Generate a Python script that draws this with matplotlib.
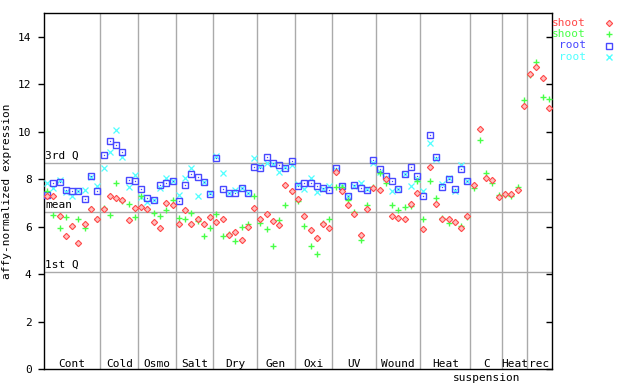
import matplotlib
matplotlib.use('Agg')
import matplotlib.pyplot as plt
import numpy as np

# groups along the x axis and how many samples each has
groups = ['Cont', 'Cold', 'Osmo', 'Salt', 'Dry', 'Gen', 'Oxi', 'UV', 'Wound',
          'Heat', 'C', 'Heat', 'rec']
sub_labels = ['', '', '', '', '', '', '', '', '', '', 'suspension', '', '']
group_sizes = [9, 6, 6, 6, 7, 6, 6, 7, 7, 8, 5, 4, 4]

shoot_red = [7.31, 7.31, 6.46, 5.62, 6.01, 5.31, 6.13, 6.76, 6.32,
             6.75, 7.29, 7.2, 7.1, 6.28, 6.8,
             6.83, 6.75, 6.21, 5.96, 7.0, 6.93,
             6.13, 6.68, 6.13, 6.32, 6.13, 6.41,
             6.18, 6.32, 5.65, 5.78, 5.45, 5.99, 6.79,
             6.32, 6.55, 6.24, 6.07, 7.77, 7.49,
             7.17, 6.46, 5.87, 5.52, 6.13, 5.94,
             8.32, 7.48, 6.9, 6.51, 5.65, 6.75, 7.62,
             7.53, 8.0, 6.43, 6.36, 6.32, 6.96, 7.42,
             5.91, 8.52, 6.97, 6.3, 6.3, 6.18, 5.93, 6.46,
             7.77, 10.13, 8.06, 7.98, 7.25,
             7.39, 7.39, 7.53, 11.08,
             12.42, 12.73, 12.28, 10.98]
shoot_green = [7.49, 6.5, 5.94, 6.41, 6.04, 6.3, 5.94, 6.75, 6.32,
               6.79, 6.49, 7.82, 7.06, 6.96, 6.41,
               7.3, 6.75, 6.58, 6.46, 6.72, 7.11,
               6.38, 6.3, 6.58, 6.24, 5.61, 5.94,
               6.53, 5.62, 5.69, 5.41, 5.99, 6.13, 7.31,
               6.15, 5.9, 5.17, 6.27, 6.92, 7.49,
               7.06, 6.04, 5.2, 4.85, 6.15, 6.3,
               7.68, 7.68, 7.11, 6.63, 5.42, 6.93, 7.65,
               8.24, 7.82, 6.93, 6.72, 6.83, 6.86, 7.91,
               6.3, 7.93, 7.2, 6.38, 6.15, 6.18, 6.04, 6.39,
               7.63, 9.64, 8.24, 7.82, 7.35,
               7.35, 7.31, 7.68, 11.32,
               12.38, 12.94, 11.48, 11.36]
nan = np.nan
root_blue = [7.34, 7.84, 7.89, 7.55, 7.51, 7.52, 7.17, 8.15, 7.48,
             9.0, 9.62, 9.45, 9.15, 7.97, 7.93,
             7.59, 7.21, 7.14, 7.77, 7.82, 7.91,
             7.09, 7.76, 8.23, 8.1, 7.87, 7.39,
             8.91, 7.59, 7.42, 7.42, 7.62, 7.42, 8.52,
             8.48, 8.94, 8.69, 8.58, 8.48, 8.75,
             7.73, 7.84, 7.82, 7.72, 7.63, 7.53,
             8.48, 7.7, 7.31, 7.76, 7.62, 7.56, 8.8,
             8.41, 8.13, 7.93, 7.6, 8.2, 8.52, 8.13,
             7.31, 9.84, 8.94, 7.68, 8.01, 7.59, 8.41, 7.91] + [nan] * 13
root_cyan = [7.85, 7.63, 7.98, 7.45, 7.31, 7.5, 7.56, 8.1, 7.7,
             8.48, 9.15, 10.08, 8.94, 7.68, 8.18,
             7.25, 7.05, 7.14, 7.63, 8.06, 7.91,
             7.35, 8.04, 8.48, 7.28, 7.87, 7.4,
             8.97, 8.24, 7.42, 7.56, 7.62, 7.42, 8.9,
             8.55, 8.69, 8.65, 8.31, 8.5, 8.6,
             7.8, 7.59, 8.06, 7.45, 7.6, 7.7,
             8.4, 7.7, 7.3, 7.7, 7.82, 7.6, 8.66,
             8.3, 8.05, 7.49, 7.6, 8.2, 7.7, 8.0,
             7.52, 9.51, 8.86, 7.8, 8.05, 7.49, 8.6, 7.91] + [nan] * 13

q_lines = [8.7, 6.62, 4.1]
q_names = ['3rd Q', 'mean', '1st Q']

RED, GREEN, BLUE, CYAN = '#ff4848', '#48ff48', '#4848ff', '#50ffff'
plt.rcParams['font.family'] = 'DejaVu Sans Mono'
plt.rcParams['font.size'] = 8

fig = plt.figure(figsize=(6.4, 3.84), dpi=100)
ax = fig.add_axes([44/640, 15/384, 508/640, 356/384])

n = sum(group_sizes)
x = np.arange(n) + 0.5
ax.set_xlim(0, n)
ax.set_ylim(0, 15)

# group separators and quartile lines
edges = np.cumsum(group_sizes)
for e in edges[:-1]:
    ax.axvline(e, color='#aaaaaa', lw=1, zorder=1)
for q, name in zip(q_lines, q_names):
    ax.axhline(q, color='#aaaaaa', lw=1, zorder=1)
    ax.text(0.15, q + 0.08, name, ha='left', va='bottom', zorder=2)

ax.plot(x, root_cyan, ls='none', marker='x', ms=4, mew=0.9, color=CYAN, zorder=3)
ax.plot(x, root_blue, ls='none', marker='s', ms=3.8, mew=1.0, mfc='none', mec=BLUE, zorder=4)
ax.plot(x, root_blue, ls='none', marker='s', ms=0.9, mew=0, color=BLUE, zorder=4)
ax.plot(x, shoot_green, ls='none', marker='+', ms=5, mew=1.0, color=GREEN, zorder=5)
ax.plot(x, shoot_red, ls='none', marker='D', ms=3.2, mew=0.8, mfc='#ffc0c0', mec=RED, zorder=6)

# group labels at the bottom
starts = np.concatenate([[0], edges[:-1]])
for s, e, g, sub in zip(starts, edges, groups, sub_labels):
    cx = (s + e) / 2
    ax.text(cx, 0.22, g, ha='center', va='center')
    if sub:
        ax.text(cx, -0.38, sub, ha='center', va='center', clip_on=False)

ax.set_yticks(range(0, 16, 2))
ax.set_xticks([])
ax.tick_params(axis='y', direction='out', length=4, width=1, pad=5, right=True)
for t in ax.yaxis.get_majorticklines()[1::2]:
    t.set_marker(matplotlib.lines.TICKLEFT)
ax.set_ylabel('affy-normalized expression')
ax.yaxis.set_label_coords((12 - 44) / 508, 0.5)
for sp in ax.spines.values():
    sp.set_linewidth(1)

# legend outside at the top right
leg = [('shoot', RED, 'D'), ('shoot', GREEN, '+'), ('root', BLUE, 's'), ('root', CYAN, 'x')]
lx = (609 - 44) / 508
for i, (lab, c, m) in enumerate(leg):
    yy = (369 - (23.3 + 11.1 * i)) / 356
    ax.text((586 - 44) / 508, yy, lab, color=c, ha='right', va='center',
            transform=ax.transAxes)
    if m == 'D':
        ax.plot([lx], [yy], marker='D', ms=3.2, mew=0.8, mfc='#ffc0c0', mec=c,
                transform=ax.transAxes, clip_on=False)
    elif m == 's':
        ax.plot([lx], [yy], marker='s', ms=3.8, mew=1.0, mfc='none', mec=c,
                transform=ax.transAxes, clip_on=False)
    else:
        ax.plot([lx], [yy], marker=m, ms=4.5, mew=1.0, color=c,
                transform=ax.transAxes, clip_on=False)

fig.savefig('out.png', dpi=100)
